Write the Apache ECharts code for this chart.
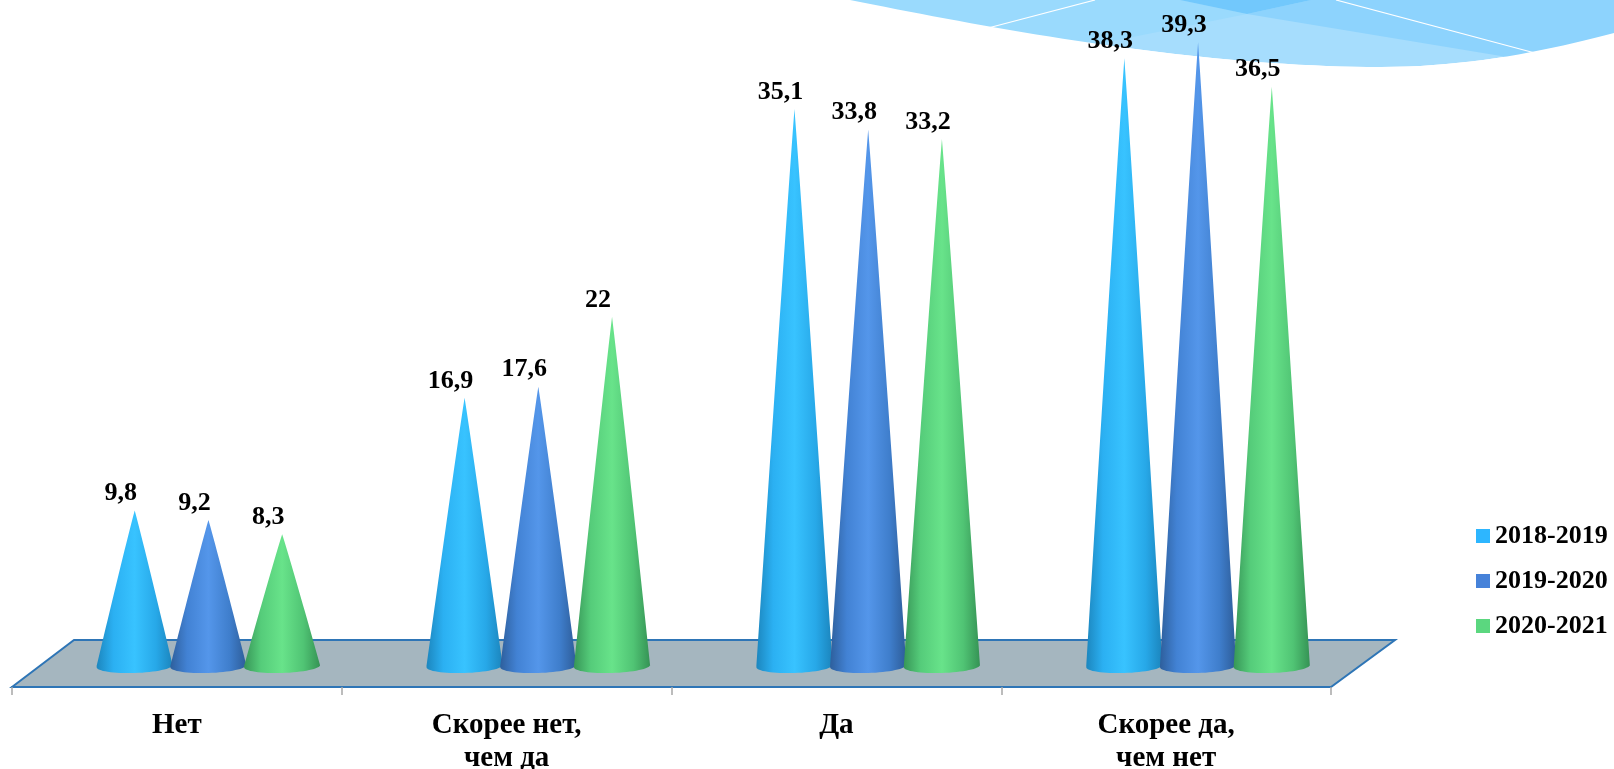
<!DOCTYPE html>
<html><head><meta charset="utf-8">
<style>html,body{margin:0;padding:0;background:#fff}#c{width:1614px;height:769px}</style>
<script src="https://cdn.jsdelivr.net/npm/echarts@6/dist/echarts.min.js"></script>
</head><body><div id="c"></div>
<script>
const categories = ['Нет', 'Скорее нет,\nчем да', 'Да', 'Скорее да,\nчем нет'];
const seriesNames = ['2018-2019', '2019-2020', '2020-2021'];
const values2018 = [9.8, 16.9, 35.1, 38.3];
const values2019 = [9.2, 17.6, 33.8, 39.3];
const values2020 = [8.3, 22, 33.2, 36.5];
const legendColors = ['#2DB6FF', '#4682D9', '#5BD77F'];
const coneShades = [
  ['#1C86BE', '#2BB0F2', '#38C3FF', '#27A8E8', '#1B84BC'],
  ['#2E5F9C', '#4282D4', '#5496EA', '#3F7ECC', '#2D5C98'],
  ['#379657', '#55CC7A', '#68E38A', '#50C474', '#359254']
];
const FONT = '"Liberation Serif", serif';

function bez(p0, p1, p2, p3, n) {
  const out = [];
  for (let i = 0; i <= n; i++) {
    const t = i / n, u = 1 - t;
    out.push([
      u*u*u*p0[0] + 3*u*u*t*p1[0] + 3*u*t*t*p2[0] + t*t*t*p3[0],
      u*u*u*p0[1] + 3*u*u*t*p1[1] + 3*u*t*t*p2[1] + t*t*t*p3[1]
    ]);
  }
  return out;
}
const edge = bez([850,0],[1000,30],[1200,67],[1381,67],40).concat(bez([1381,67],[1470,67],[1550,50],[1614,33],20));
const cover = edge.concat([[1614,120],[850,120]]);

function poly(points, fill, z) {
  return { type: 'polygon', silent: true, z: z, shape: { points: points }, style: { fill: fill } };
}
function wline(a, b) {
  return { type: 'line', silent: true, z: 0.5, shape: { x1: a[0], y1: a[1], x2: b[0], y2: b[1] }, style: { stroke: '#fff', lineWidth: 1.2 } };
}

function coneItem(idx) {
  return function (params, api) {
    const band = api.size([1, 0])[0];
    const offset = (idx - 1) * band * 0.2235;
    const top = api.coord([api.value(0), api.value(1)]);
    const base = api.coord([api.value(0), 0]);
    const cx = top[0] + offset, ay = top[1], by = base[1];
    const halfW = band * 0.1155, ry = 7, tilt = 1.2;
    const pts = [];
    const steps = 24;
    for (let i = 1; i <= steps; i++) {
      const t = i / steps, k = Math.pow(t, 0.97);
      pts.push([cx + halfW * k, ay + (by - ay) * t]);
    }
    for (let i = 1; i < 32; i++) {
      const a = Math.PI * i / 32;
      pts.push([cx + halfW * Math.cos(a), by + ry * Math.sin(a) - tilt * Math.cos(a)]);
    }
    for (let i = steps; i >= 1; i--) {
      const t = i / steps, k = Math.pow(t, 0.97);
      pts.push([cx - halfW * k, ay + (by - ay) * t]);
    }
    pts.unshift([cx, ay]);
    const c = coneShades[idx];
    return {
      type: 'group',
      children: [
        { type: 'polygon', shape: { points: pts }, style: { fill: {
          type: 'linear', x: 0, y: 0, x2: 1, y2: 0,
          colorStops: [
            { offset: 0, color: c[0] }, { offset: 0.22, color: c[1] }, { offset: 0.5, color: c[2] },
            { offset: 0.78, color: c[3] }, { offset: 1, color: c[4] }
          ] } } },
        { type: 'text', z2: 10, style: {
          x: cx - 14, y: ay - 4,
          text: String(api.value(1)).replace('.', ','),
          font: 'bold 26px ' + FONT, fill: '#000',
          align: 'center', verticalAlign: 'bottom'
        } }
      ]
    };
  };
}

function makeSeries(i, vals) {
  return {
    type: 'custom', name: seriesNames[i], xAxisIndex: 1, yAxisIndex: 1,
    renderItem: coneItem(i), clip: false,
    itemStyle: { color: legendColors[i] },
    encode: { x: 0, y: 1 },
    data: vals.map((v, k) => [k, v])
  };
}

const chart = echarts.init(document.getElementById('c'), null, { renderer: 'canvas' });
chart.setOption({
  animation: false,
  backgroundColor: '#fff',
  graphic: { elements: [
    poly(edge.concat([[1614,0],[850,0]]), '#A6DDFD', 0),
    poly([[850,0],[1180,0],[1247,14],[1098,44],[1000,70],[850,70]], '#9ADAFD', 0.1),
    poly([[1311,0],[1614,0],[1614,80],[1507,57],[1247,14]], '#8DD3FD', 0.1),
    poly([[1180,0],[1311,0],[1247,14]], '#72C8FC', 0.2),
    wline([988,28],[1095,0]), wline([1336,0],[1535,53]),
    poly(cover, '#fff', 0.6),
    { type: 'polygon', silent: true, z: 0.7,
      shape: { points: [[12,687],[74,640],[1395,640],[1331,687]] },
      style: { fill: '#A5B6BF', stroke: '#2E75B6', lineWidth: 2 } }
  ] },
  legend: {
    orient: 'vertical', left: 1471, top: 518,
    itemWidth: 14, itemHeight: 14, itemGap: 19, icon: 'rect',
    textStyle: { fontFamily: FONT, fontWeight: 'bold', fontSize: 26, color: '#000' },
    data: seriesNames
  },
  grid: [
    { left: 12, width: 1319, top: 640, height: 47, outerBoundsMode: 'none' },
    { left: 43.5, width: 1319.5, top: 31.2, height: 634.8, outerBoundsMode: 'none' }
  ],
  xAxis: [
    { type: 'category', gridIndex: 0, data: categories, boundaryGap: true, z: 5, position: 'bottom',
      axisLine: { show: true, onZero: false, lineStyle: { color: '#2E75B6', width: 2 } },
      axisTick: { show: true, inside: false, length: 8, alignWithLabel: false, lineStyle: { color: '#A6A6A6', width: 1.5 } },
      axisLabel: { show: true, interval: 0, margin: 22.5, color: '#000', fontFamily: FONT, fontWeight: 'bold', fontSize: 29, lineHeight: 33 } },
    { type: 'category', gridIndex: 1, data: categories, show: false }
  ],
  yAxis: [
    { type: 'value', gridIndex: 0, show: false, min: 0, max: 1 },
    { type: 'value', gridIndex: 1, show: false, min: 0, max: 40, splitLine: { show: false } }
  ],
  series: [makeSeries(0, values2018), makeSeries(1, values2019), makeSeries(2, values2020)]
});
</script></body></html>
